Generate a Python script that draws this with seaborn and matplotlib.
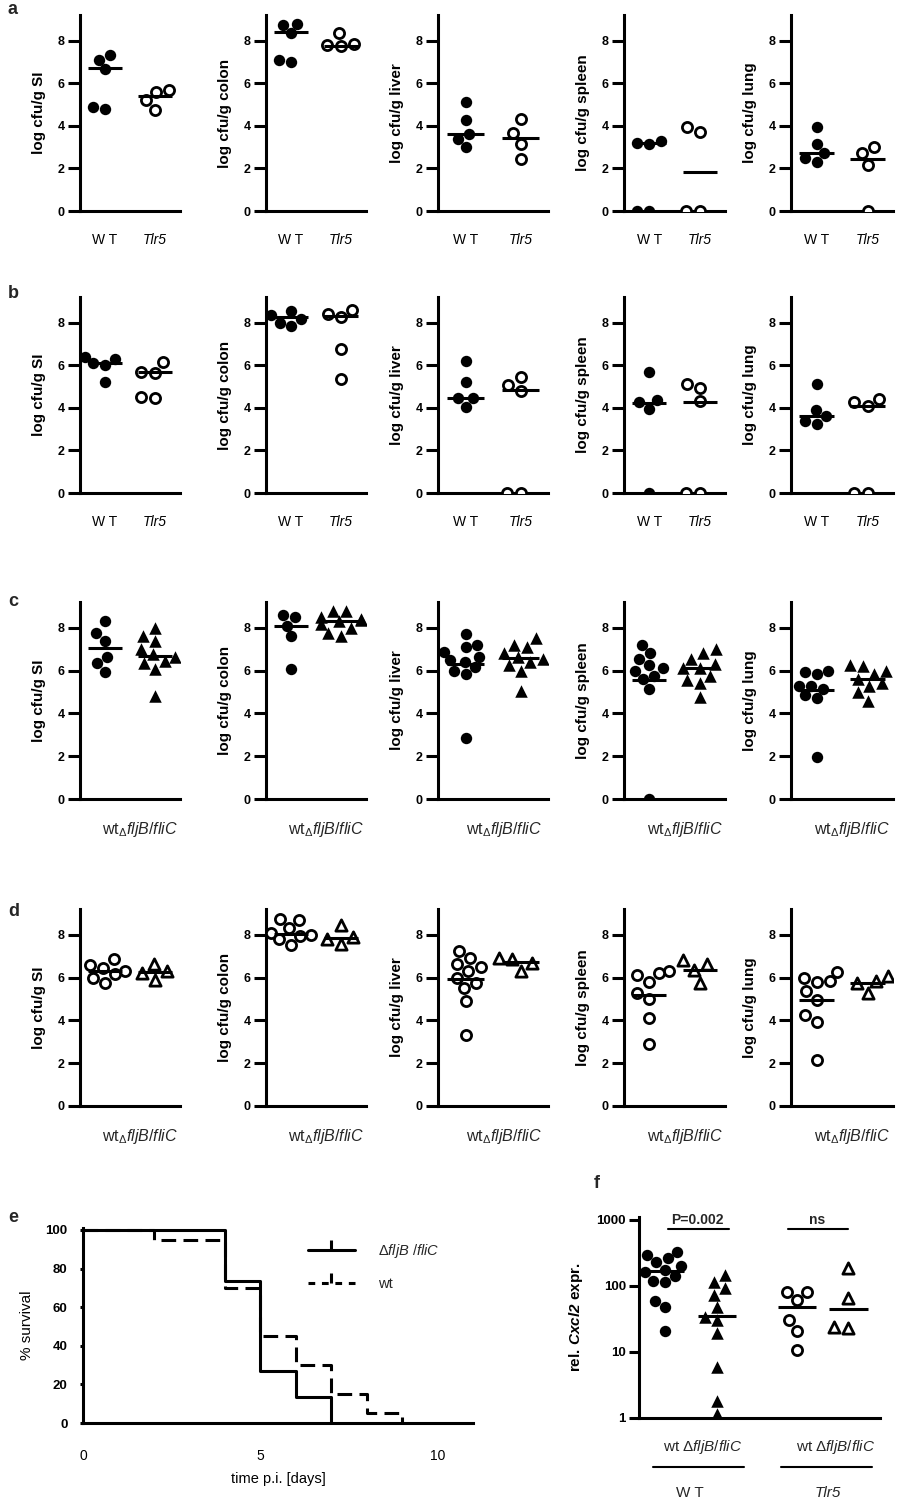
import warnings
warnings.filterwarnings("ignore")
import numpy as np
import matplotlib
matplotlib.use("Agg")
import matplotlib.pyplot as plt
import matplotlib.transforms as mtransforms
from matplotlib.lines import Line2D
from matplotlib.ticker import NullLocator
import seaborn as sns

# ---------------- data ----------------
organs = ["SI", "colon", "liver", "spleen", "lung"]

# row a: WT vs Tlr5 mice
a_wt = [[7.1, 7.3, 6.65, 4.8, 4.9],
        [8.75, 8.8, 8.35, 7.0, 7.1],
        [5.1, 4.25, 3.6, 3.4, 3.0],
        [3.2, 3.15, 3.3, 0, 0],
        [3.95, 3.15, 2.7, 2.3, 2.5]]
a_tlr5 = [[5.7, 5.6, 5.2, 4.75],
          [8.35, 7.85, 7.75, 7.8],
          [4.3, 3.65, 3.15, 2.45],
          [3.95, 3.7, 0, 0],
          [3.0, 2.7, 2.15, 0]]
a_line_wt = [6.7, 8.4, 3.6, 3.17, 2.73]
a_line_tlr5 = [5.4, 7.76, 3.45, 1.85, 2.42]

# row b
b_wt = [[6.3, 6.4, 6.1, 6.0, 5.2],
        [8.55, 8.35, 8.15, 7.85, 8.0],
        [6.2, 5.2, 4.45, 4.45, 4.05],
        [5.7, 4.25, 4.35, 3.95, 0],
        [5.1, 3.9, 3.6, 3.25, 3.4]]
b_tlr5 = [[6.15, 5.7, 5.65, 4.45, 4.5],
          [8.6, 8.4, 8.25, 6.75, 5.35],
          [5.05, 5.45, 4.8, 0, 0],
          [4.95, 5.1, 4.3, 0, 0],
          [4.25, 4.4, 4.1, 0, 0]]
b_line_wt = [6.1, 8.28, 4.46, 4.24, 3.6]
b_line_tlr5 = [5.7, 8.31, 4.82, 4.27, 4.1]

# row c: wt vs fljB/fliC bacteria (filled)
c_wt = [[8.3, 7.75, 7.4, 6.65, 6.35, 5.95],
        [8.5, 8.6, 8.1, 7.6, 6.05],
        [7.7, 7.2, 7.1, 6.85, 6.65, 6.5, 6.4, 6.15, 6.0, 5.85, 2.85],
        [7.2, 6.8, 6.55, 6.25, 6.1, 6.0, 5.75, 5.6, 5.15, 0],
        [6.0, 5.95, 5.85, 5.3, 5.3, 5.15, 4.85, 4.7, 1.95]]
c_mut = [[8.0, 7.6, 7.4, 7.0, 6.75, 6.65, 6.45, 6.35, 6.05, 4.8],
         [8.8, 8.8, 8.5, 8.4, 8.35, 8.3, 8.15, 8.0, 7.75, 7.6],
         [7.5, 7.2, 7.1, 6.8, 6.65, 6.55, 6.4, 6.25, 6.0, 5.05],
         [7.0, 6.8, 6.55, 6.3, 6.1, 6.1, 5.75, 5.55, 5.4, 4.75],
         [6.25, 6.2, 6.0, 5.85, 5.6, 5.4, 5.3, 5.0, 4.6]]
c_line_wt = [7.07, 8.08, 6.32, 5.55, 5.1]
c_line_mut = [6.68, 8.31, 6.59, 6.12, 5.6]

# row d (open symbols)
d_wt = [[6.85, 6.6, 6.45, 6.3, 6.15, 6.0, 5.75],
        [8.75, 8.7, 8.3, 8.1, 8.0, 7.95, 7.8, 7.5],
        [7.25, 6.9, 6.65, 6.5, 6.3, 6.0, 5.75, 5.5, 4.9, 3.3],
        [6.3, 6.2, 6.1, 5.8, 5.3, 5.0, 4.1, 2.9],
        [6.25, 6.0, 5.85, 5.8, 5.35, 4.95, 4.25, 3.9, 2.15]]
d_mut = [[6.65, 6.3, 6.2, 5.9],
         [8.45, 7.9, 7.8, 7.55],
         [6.9, 6.85, 6.7, 6.3],
         [6.8, 6.65, 6.35, 5.75],
         [6.05, 5.85, 5.75, 5.3]]
d_line_wt = [6.3, 8.05, 5.94, 5.2, 4.95]
d_line_mut = [6.28, 7.83, 6.72, 6.37, 5.75]

# panel e: survival
surv_days_mut = [0, 4, 5, 6, 7]
surv_pct_mut = [100, 73.3, 26.7, 13.3, 0]
surv_days_wt = [0, 2, 4, 5, 6, 7, 8, 9]
surv_pct_wt = [100, 95, 70, 45, 30, 15, 5, 0]

# panel f: Cxcl2 expression
f_wt_wt = [330, 290, 260, 230, 200, 175, 160, 140, 120, 115, 58, 47, 21]
f_wt_mut = [146, 116, 92, 73, 48, 34, 30, 19, 5.9, 1.8, 1.16]
f_tlr5_wt = [82, 82, 61, 30, 21, 10.6]
f_tlr5_mut = [185, 65, 24, 23]
f_lines = [165, 35, 47, 45]
f_pvals = ["P=0.002", "ns"]

# ---------------- style ----------------
sns.set_theme(style="white")
plt.rcParams['font.family'] = ['Liberation Sans', 'DejaVu Sans']
plt.rcParams['mathtext.fontset'] = 'custom'
plt.rcParams['mathtext.rm'] = 'Liberation Sans'
plt.rcParams['mathtext.it'] = 'Liberation Sans:italic'
plt.rcParams['mathtext.bf'] = 'Liberation Sans:bold'
try:
    plt.rcParams['mathtext.bfit'] = 'Liberation Sans:italic:bold'
    HAS_BFIT = True
except Exception:
    HAS_BFIT = False

W, H = 900, 1502
fig = plt.figure(figsize=(W / 100, H / 100), dpi=100, facecolor='white')
LW = 2.2


def add_ax(x0, top, x1, bottom):
    return fig.add_axes([x0 / W, 1 - bottom / H, (x1 - x0) / W, (bottom - top) / H])


def style_spines(ax):
    for s in ['top', 'right']:
        ax.spines[s].set_visible(False)
    for s in ['left', 'bottom']:
        ax.spines[s].set_linewidth(LW)
        ax.spines[s].set_color('black')
    ax.set_facecolor('white')


def swarm(ax, pos, vals, filled, marker):
    x = np.full(len(vals), pos, dtype=float)
    base = 9.0 if marker == '^' else 8.2
    if filled:
        kw = dict(color='black', linewidth=0, size=base)
    else:
        kw = dict(color='white', edgecolor='black', linewidth=2.0, size=base - 0.9)
    sns.swarmplot(x=x, y=vals, native_scale=True, orient='x', marker=marker,
                  ax=ax, zorder=3, **kw)


col_left = [80, 266, 438, 624, 791]
col_right = [180, 366, 548, 725, 893]
rows = [
    dict(top=15, bottom=211, g1=a_wt, g2=a_tlr5, l1=a_line_wt, l2=a_line_tlr5,
         m1='o', m2='o', f1=True, f2=False, kind='mouse'),
    dict(top=297, bottom=493, g1=b_wt, g2=b_tlr5, l1=b_line_wt, l2=b_line_tlr5,
         m1='o', m2='o', f1=True, f2=False, kind='mouse'),
    dict(top=602, bottom=799, g1=c_wt, g2=c_mut, l1=c_line_wt, l2=c_line_mut,
         m1='o', m2='^', f1=True, f2=True, kind='bact'),
    dict(top=909, bottom=1106, g1=d_wt, g2=d_mut, l1=d_line_wt, l2=d_line_mut,
         m1='o', m2='^', f1=False, f2=False, kind='bact'),
]

for r in rows:
    for i, organ in enumerate(organs):
        ax = add_ax(col_left[i], r['top'], col_right[i], r['bottom'])
        ax.set_ylim(0, 9.2)
        ax.set_xlim(-0.5, 1.5)
        swarm(ax, 0, r['g1'][i], r['f1'], r['m1'])
        swarm(ax, 1, r['g2'][i], r['f2'], r['m2'])
        ax.hlines(r['l1'][i], -0.34, 0.34, color='black', lw=LW, zorder=4)
        ax.hlines(r['l2'][i], 1 - 0.34, 1 + 0.34, color='black', lw=LW, zorder=4)
        ax.set_xlim(-0.5, 1.5)
        ax.set_ylim(0, 9.2)
        style_spines(ax)
        ax.set_yticks([0, 2, 4, 6, 8], labels=['0', '2', '4', '6', '8'],
                      fontweight='bold', fontsize=9)
        ax.tick_params(axis='y', left=True, length=8.5, width=LW, pad=2.5,
                       color='black', direction='out', labelcolor='black')
        ax.set_ylabel(f"log cfu/g {organ}", fontsize=11, fontweight='bold',
                      labelpad=8, color='black')
        ax.set_xlabel('')
        if r['kind'] == 'mouse':
            ax.set_xticks([0, 1], labels=['W T', 'Tlr5'], fontsize=10)
            ax.get_xticklabels()[1].set_fontstyle('italic')
            ax.tick_params(axis='x', bottom=False, length=0, pad=16, labelcolor='black')
        else:
            ax.set_xticks([])
            ax.text(0.6, -0.155, r"wt$_{\Delta}$$\mathit{fljB/fliC}$",
                    transform=ax.transAxes, ha='center', va='center', fontsize=11.5)

# panel letters
for lt, (x, y) in zip("abcdef", [(8, 10), (8, 293), (8, 602), (8, 912), (8, 1217), (594, 1184)]):
    fig.text(x / W, 1 - y / H, lt, fontsize=13, fontweight='bold', ha='left', va='center')

# ---------------- panel e ----------------
ax_e = add_ax(83, 1228, 473, 1423)
sns.lineplot(x=surv_days_mut, y=surv_pct_mut, drawstyle='steps-post', color='black',
             lw=LW, ax=ax_e, estimator=None, zorder=3)
sns.lineplot(x=surv_days_wt, y=surv_pct_wt, drawstyle='steps-post', color='black',
             lw=LW, ax=ax_e, estimator=None, zorder=3)
ax_e.lines[-1].set_linestyle((0, (4.8, 2.4)))
ax_e.set_xlim(0, 11)
ax_e.set_ylim(0, 101)
style_spines(ax_e)
ax_e.set_xticks([0, 5, 10], labels=['0', '5', '10'], fontsize=10)
ax_e.set_yticks([0, 20, 40, 60, 80, 100], labels=['0', '20', '40', '60', '80', '100'],
                fontweight='bold', fontsize=9.5)
ax_e.tick_params(axis='x', bottom=False, length=0, pad=19, labelcolor='black')
ax_e.tick_params(axis='y', left=True, length=2, width=LW, pad=9, color='black', labelcolor='black')
ax_e.set_xlabel("time p.i. [days]", fontsize=10.5, labelpad=6, color='black')
ax_e.set_ylabel("% survival", fontsize=11, labelpad=8, color='black')
handles = [Line2D([], [], color='black', lw=LW, marker=2, markersize=7, markeredgewidth=LW),
           Line2D([], [], color='black', lw=LW, ls=(0, (2.2, 2.2)), marker=2, markersize=7,
                  markeredgewidth=LW)]
ax_e.legend(handles, [r"$\Delta\mathit{fljB}$ /$\mathit{fliC}$", "wt"], loc='upper left',
            bbox_to_anchor=(0.577, 0.93), frameon=False, borderpad=0, borderaxespad=0,
            handlelength=3.2, handletextpad=1.6, labelspacing=1.2, fontsize=10.5,
            numpoints=1)

# ---------------- panel f ----------------
ax_f = add_ax(639, 1217, 880, 1418)
ax_f.set_yscale('log')
ax_f.set_ylim(1, 1100)
f_pos = [0, 1, 2.54, 3.52]
f_groups = [(f_wt_wt, True, 'o'), (f_wt_mut, True, '^'), (f_tlr5_wt, False, 'o'),
            (f_tlr5_mut, False, '^')]
for p, (vals, filled, mk) in zip(f_pos, f_groups):
    swarm(ax_f, p, vals, filled, mk)
for p, v in zip(f_pos, f_lines):
    ax_f.hlines(v, p - 0.37, p + 0.37, color='black', lw=LW, zorder=4)
ax_f.set_yscale('log')
ax_f.set_xlim(-0.5, 4.13)
ax_f.set_ylim(1, 1100)
style_spines(ax_f)
ax_f.set_yticks([1, 10, 100, 1000], labels=['1', '10', '100', '1000'], fontweight='bold',
                fontsize=9.5)
ax_f.yaxis.set_minor_locator(NullLocator())
ax_f.tick_params(axis='y', left=True, length=7, width=LW, pad=2.5, color='black', labelcolor='black')
ax_f.set_xticks([])
ax_f.set_xlabel('')
ylab = r"rel. $\mathbfit{Cxcl2}$ expr." if HAS_BFIT else r"rel. $\mathit{Cxcl2}$ expr."
ax_f.set_ylabel(ylab, fontsize=11, fontweight='bold', labelpad=8, color='black')

# significance bars
for (x0, x1, xt), txt in zip([(0.06, 1.23, 0.62), (2.37, 3.52, 2.92)], f_pvals):
    ax_f.plot([x0, x1], [731, 731], color='black', lw=1.5, clip_on=False)
    ax_f.text(xt, 1000, txt, ha='center', va='center', fontsize=10, fontweight='bold')

trans = mtransforms.blended_transform_factory(ax_f.transData, ax_f.transAxes)
for xt, (x0, x1), xg, glab, it in [(0.73, (-0.23, 1.52), 0.48, 'W T', False),
                                   (3.27, (2.23, 3.98), 3.13, 'Tlr5', True)]:
    ax_f.text(xt, -0.144, r"wt $\Delta$$\mathit{fljB/fliC}$", transform=trans,
              ha='center', va='center', fontsize=11)
    ax_f.plot([x0, x1], [-0.244, -0.244], transform=trans, color='black', lw=1.5,
              clip_on=False)
    ax_f.text(xg, -0.373, glab, transform=trans, ha='center', va='center', fontsize=11,
              fontstyle='italic' if it else 'normal')

fig.savefig("out.png", dpi=100, facecolor='white')
